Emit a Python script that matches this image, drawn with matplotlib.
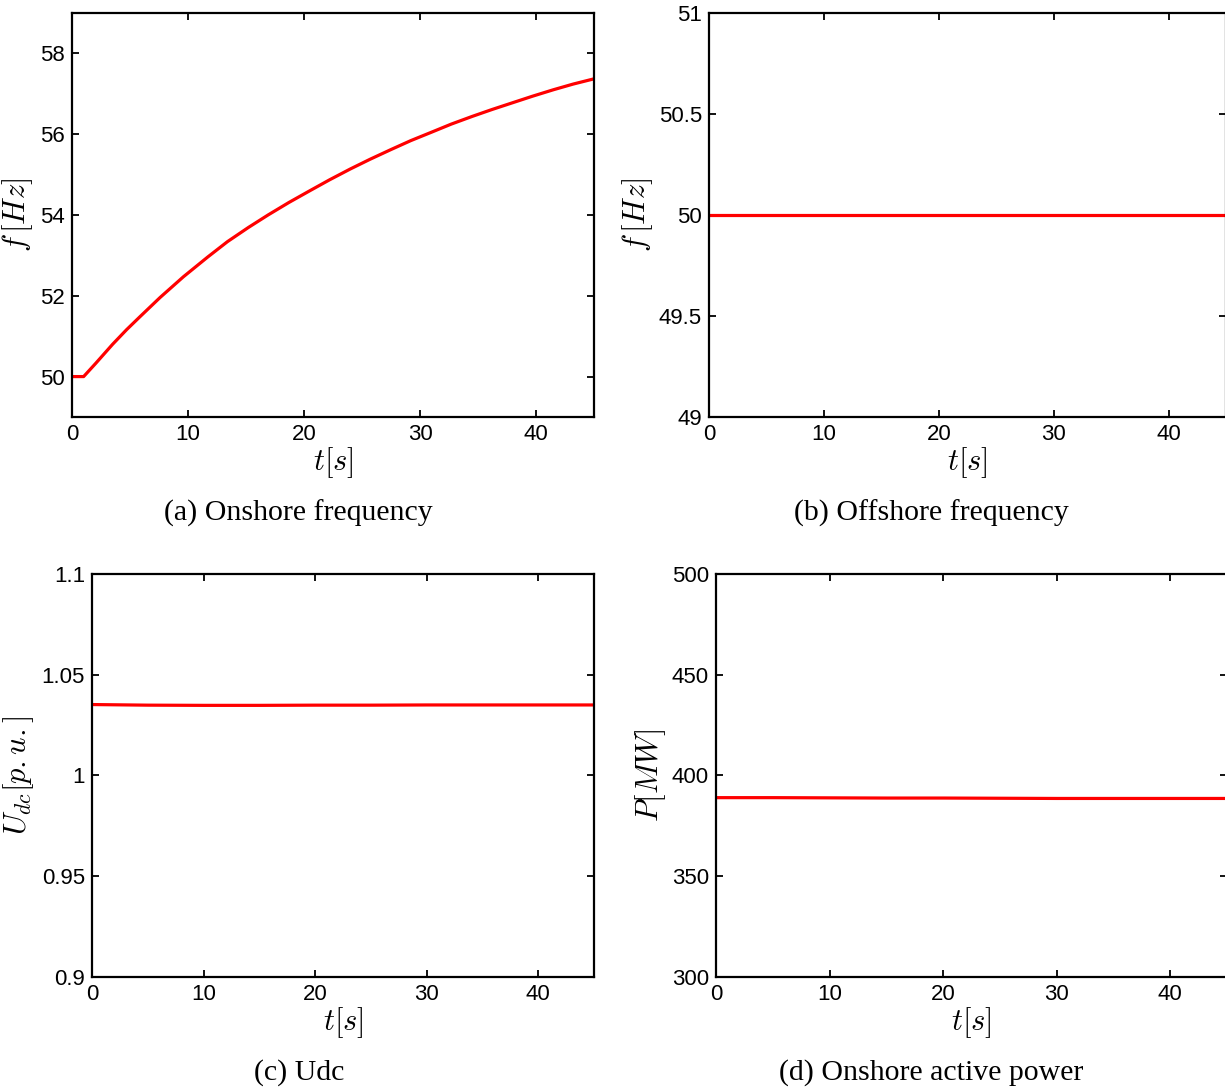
#!/usr/bin/env python3

#imports
import matplotlib
matplotlib.use("Agg")
import matplotlib.pyplot as plt


#data
t_onshore = [0, 1.0, 2.05, 3.5, 4.7, 5.85, 7.6, 9.6, 11.7, 13.4, 15.2, 16.9, 18.7,
             20.5, 22.2, 24.0, 25.7, 27.5, 29.2, 31.0, 32.7, 34.5, 36.2, 38.0,
             39.7, 41.5, 43.2, 45]
f_onshore = [50, 50, 50.33, 50.80, 51.16, 51.48, 51.96, 52.47, 52.96, 53.34, 53.69,
             54.00, 54.31, 54.60, 54.87, 55.14, 55.38, 55.62, 55.84, 56.05, 56.25,
             56.44, 56.61, 56.78, 56.94, 57.10, 57.24, 57.37]

t_flat = [0, 5, 10, 15, 20, 25, 30, 35, 40, 45]
f_offshore = [50, 50, 50, 50, 50, 50, 50, 50, 50, 50]
u_dc = [1.0352, 1.0349, 1.0348, 1.0348, 1.0349, 1.0349, 1.035, 1.035, 1.035, 1.035]
p_onshore = [389.0, 389.0, 388.9, 388.8, 388.8, 388.7, 388.6, 388.6, 388.6, 388.6]

x_ticks = [0, 10, 20, 30, 40]


#functions
def style_axes(ax, ylim, yticks, yticklabels, ylabel, caption, caption_x, caption_y, ylabel_x):
    ax.set_xlim(0, 45)
    ax.set_ylim(*ylim)
    ax.set_xticks(x_ticks)
    ax.set_xticklabels([str(v) for v in x_ticks])
    ax.set_yticks(yticks)
    ax.set_yticklabels(yticklabels)
    ax.tick_params(direction="in", length=5, width=1.3, top=True, right=True,
                   labelsize=16, pad=5)
    for lbl in ax.get_xticklabels() + ax.get_yticklabels():
        lbl.set_fontfamily("Liberation Sans")
    for sp in ax.spines.values():
        sp.set_linewidth(1.6)
    ax.set_xlabel(r"$t[s]$", fontsize=22, labelpad=0)
    ax.set_ylabel(ylabel, fontsize=22)
    ax.yaxis.set_label_coords(ylabel_x, 0.5)
    ax.figure.text(caption_x, caption_y, caption, ha="center", va="center",
                   fontsize=21.5, family="Liberation Serif")


#main
def main():
    plt.rcParams["mathtext.fontset"] = "cm"
    fig = plt.figure(figsize=(12.25, 10.91), dpi=100)

    ax_a = fig.add_axes([0.0588, 0.6178, 0.4261, 0.3703])
    ax_b = fig.add_axes([0.5788, 0.6178, 0.4220, 0.3703])
    ax_c = fig.add_axes([0.0751, 0.1045, 0.4098, 0.3694])
    ax_d = fig.add_axes([0.5845, 0.1045, 0.4171, 0.3694])

    ax_a.plot(t_onshore, f_onshore, color="red", lw=2.3)
    ax_b.plot(t_flat, f_offshore, color="red", lw=2.3)
    ax_c.plot(t_flat, u_dc, color="red", lw=2.3)
    ax_d.plot(t_flat, p_onshore, color="red", lw=2.3)

    style_axes(ax_a, (49, 59), [50, 52, 54, 56, 58], ["50", "52", "54", "56", "58"],
               r"$f\,[Hz]$", "(a) Onshore frequency", 298 / 1225, 1 - 513 / 1091, -0.071)
    style_axes(ax_b, (49, 51), [49, 49.5, 50, 50.5, 51], ["49", "49.5", "50", "50.5", "51"],
               r"$f\,[Hz]$", "(b) Offshore frequency", 931 / 1225, 1 - 513 / 1091, -0.104)
    style_axes(ax_c, (0.9, 1.1), [0.9, 0.95, 1.0, 1.05, 1.1], ["0.9", "0.95", "1", "1.05", "1.1"],
               r"$U_{dc}[p.u.]$", "(c) Udc", 299 / 1225, 1 - 1073 / 1091, -0.112)
    style_axes(ax_d, (300, 500), [300, 350, 400, 450, 500], ["300", "350", "400", "450", "500"],
               r"$P[MW]$", "(d) Onshore active power", 931 / 1225, 1 - 1073 / 1091, -0.094)

    fig.savefig("out.png", dpi=100)

#main call
if __name__ == "__main__":
    main()
